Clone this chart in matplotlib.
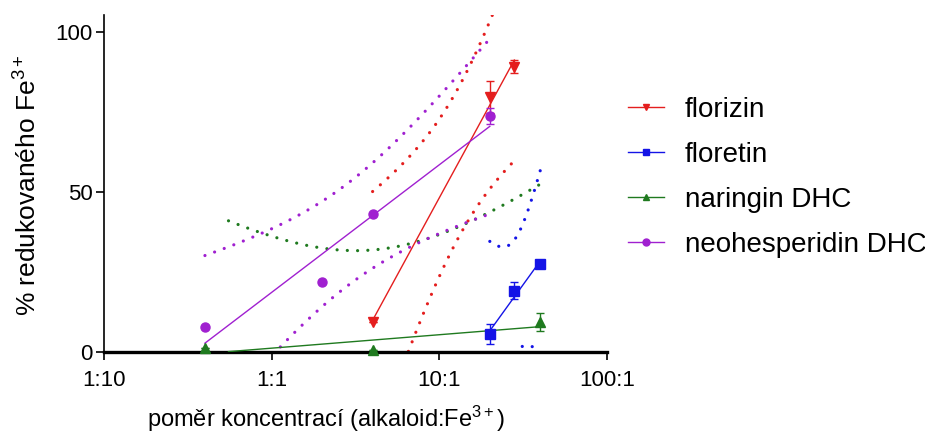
import numpy as np
import matplotlib
matplotlib.use("Agg")
import matplotlib.pyplot as plt
from matplotlib.lines import Line2D

plt.rcParams['font.family'] = ['Liberation Sans', 'DejaVu Sans']
plt.rcParams['mathtext.fontset'] = 'custom'
plt.rcParams['mathtext.rm'] = 'Liberation Sans'
plt.rcParams['mathtext.it'] = 'Liberation Sans:italic'
plt.rcParams['mathtext.bf'] = 'Liberation Sans:bold'

# ---- data (ratio alkaloid:Fe3+, % reduced Fe3+) ----
x_florizin = [4, 20, 28]
y_florizin = [9.4, 79.5, 89.1]
e_florizin = [0.0, 5.0, 2.0]

x_floretin = [20, 28, 40]
y_floretin = [5.5, 19.1, 27.4]
e_floretin = [3.0, 2.6, 0.5]

x_naringin = [0.4, 4, 40]
y_naringin = [1.0, 0.5, 9.4]
e_naringin = [0.0, 0.0, 2.8]

x_neohesp = [0.4, 2, 4, 20]
y_neohesp = [7.6, 21.9, 42.9, 73.75]
e_neohesp = [0.0, 0.0, 0.0, 2.5]

labels = ["florizin", "floretin", "naringin DHC", "neohesperidin DHC"]
colors = ["#E41E1E", "#1414E6", "#1F7A1F", "#A020D0"]
markers = ["v", "s", "^", "o"]

xtick_vals = [0.1, 1, 10, 100]
xtick_labels = ["1:10", "1:1", "10:1", "100:1"]
ytick_vals = [0, 50, 100]

# two-sided 95% t quantiles by degrees of freedom
T95 = {1: 12.706, 2: 4.303, 3: 3.182, 4: 2.776}

series = [
    (x_florizin, y_florizin, e_florizin),
    (x_floretin, y_floretin, e_floretin),
    (x_naringin, y_naringin, e_naringin),
    (x_neohesp, y_neohesp, e_neohesp),
]

fig = plt.figure(figsize=(9.25, 4.37), dpi=100)
W, H = 925, 437
x0, x1 = 104, 607
y0, y1 = 351.7, 15
ax = fig.add_axes([x0 / W, 1 - y0 / H, (x1 - x0) / W, (y0 - y1) / H])
ax.set_xscale('log')
ax.set_xlim(0.1, 100)
ax.set_ylim(0, 105.2)

dot_style = dict(linestyle=(0, (0.01, 3.2)), dash_capstyle='round', lw=2.3)

for (xs, ys, es), col, mk in zip(series, colors, markers):
    xs = np.asarray(xs, float)
    ys = np.asarray(ys, float)
    lx = np.log10(xs)
    n = len(xs)
    b, a = np.polyfit(lx, ys, 1)
    resid = ys - (a + b * lx)
    df = n - 2
    s = np.sqrt(np.sum(resid ** 2) / df)
    sxx = np.sum((lx - lx.mean()) ** 2)
    g = np.linspace(lx.min(), lx.max(), 300)
    fit = a + b * g
    keep = fit >= 0
    g, fit = g[keep], fit[keep]
    half = T95[df] * s * np.sqrt(1.0 / n + (g - lx.mean()) ** 2 / sxx)
    gx = 10 ** g
    ax.plot(gx, fit, color=col, lw=1.0, zorder=3)
    ax.plot(gx, fit + half, color=col, **dot_style, zorder=2)
    ax.plot(gx, fit - half, color=col, **dot_style, zorder=2)
    ax.errorbar(xs, ys, yerr=es, fmt=mk, color=col, ms=6.5, elinewidth=1.0,
                capsize=3, capthick=1.0, zorder=4, clip_on=False)

ax.set_xticks(xtick_vals)
ax.set_xticklabels(xtick_labels)
ax.xaxis.set_minor_locator(matplotlib.ticker.NullLocator())
ax.set_yticks(ytick_vals)

for sp in ['top', 'right']:
    ax.spines[sp].set_visible(False)
ax.spines['left'].set_linewidth(1.2)
ax.spines['bottom'].set_linewidth(2.4)
ax.tick_params(axis='both', direction='out', length=6, width=1.2,
               labelsize=16, colors='black')
ax.tick_params(axis='x', pad=7)
ax.tick_params(axis='y', pad=2)

ax.set_xlabel(r"poměr koncentrací (alkaloid:Fe$^{\mathregular{3+}}$)", fontsize=17)
ax.xaxis.set_label_coords((326 - x0) / (x1 - x0), (y0 - 404) / (y0 - y1))
ax.set_ylabel(r"% redukovaného Fe$^{\mathregular{3+}}$", fontsize=19)
ax.yaxis.set_label_coords((42 - x0) / (x1 - x0), (y0 - 185) / (y0 - y1))

handles = [Line2D([0], [0], color=c, marker=m, ms=5, lw=1.0)
           for c, m in zip(colors, markers)]
fig.legend(handles, labels, loc='upper left', bbox_to_anchor=(617 / W, 1 - 86 / H),
           frameon=False, fontsize=20, handlelength=1.3, handletextpad=0.75,
           labelspacing=0.68, borderaxespad=0)

fig.savefig("out.png", dpi=100)
